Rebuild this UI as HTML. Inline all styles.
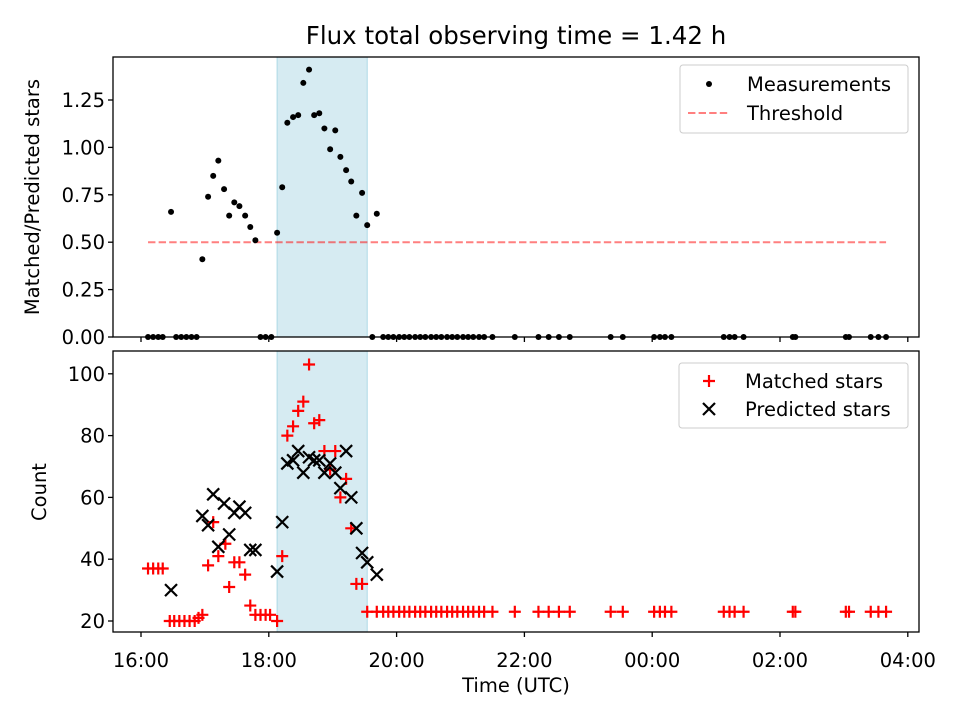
<!DOCTYPE html>
<html><head><meta charset="utf-8"><style>
body{margin:0;background:#fff}
svg text{font-family:"DejaVu Sans","Liberation Sans",sans-serif;fill:#000}
</style></head><body>
<svg id="c" width="960" height="720" xmlns="http://www.w3.org/2000/svg"></svg>
<script>
// hours since 16:00 UTC
const ratioTimes=[0.47,0.96,1.05,1.13,1.21,1.30,1.38,1.46,1.54,1.63,1.71,1.79,2.13,2.21,2.29,2.38,2.46,2.54,2.63,2.71,2.79,2.87,2.96,3.04,3.12,3.21,3.29,3.37,3.46,3.54,3.69];
const ratioValues=[0.66,0.41,0.74,0.85,0.93,0.78,0.64,0.71,0.69,0.64,0.58,0.51,0.55,0.79,1.13,1.16,1.17,1.34,1.41,1.17,1.18,1.10,0.99,1.09,0.95,0.88,0.82,0.64,0.76,0.59,0.65];
const tailTimes=[3.62,3.79,3.87,3.95,4.04,4.12,4.20,4.29,4.37,4.45,4.54,4.62,4.70,4.79,4.87,4.95,5.04,5.12,5.20,5.29,5.37,5.50,5.85,6.22,6.38,6.54,6.71,7.35,7.54,8.03,8.12,8.20,8.30,9.12,9.21,9.29,9.43,10.20,10.24,11.03,11.08,11.42,11.54,11.66];
const earlyZeroTimes=[0.11,0.19,0.27,0.34,0.55,0.63,0.71,0.79,0.87,1.87,1.95,2.04];
const matchedTimes=[0.11,0.19,0.27,0.34,0.45,0.52,0.60,0.68,0.76,0.84,0.90,0.96,1.05,1.13,1.21,1.32,1.38,1.46,1.54,1.63,1.71,1.79,1.87,1.95,2.02,2.13,2.21,2.29,2.38,2.46,2.54,2.63,2.71,2.79,2.87,2.96,3.04,3.12,3.21,3.29,3.37,3.46,3.54,3.69];
const matchedValues=[37,37,37,37,20,20,20,20,20,20,21,22,38,52,41,45,31,39,39,35,25,22,22,22,22,20,41,80,83,88,91,103,84,85,75,69,75,60,66,50,32,32,23,23];
const predictedTimes=[0.47,0.96,1.05,1.13,1.21,1.30,1.38,1.46,1.54,1.63,1.71,1.79,2.13,2.21,2.29,2.38,2.46,2.54,2.63,2.71,2.79,2.87,2.96,3.04,3.12,3.21,3.29,3.37,3.46,3.54,3.69];
const predictedValues=[30,54,51,61,44,58,48,55,57,55,43,43,36,52,71,72,75,68,73,72,72,68,71,68,63,75,60,50,42,39,35];
const topTicks=[0,0.25,0.5,0.75,1.0,1.25];
const botTicks=[20,40,60,80,100];
const xTickHours=[0,2,4,6,8,10,12];
const xTickLabels=["16:00","18:00","20:00","22:00","00:00","02:00","04:00"];
const threshold=0.5;
const span=[2.13,3.54];

const S=document.getElementById('c');const NS='http://www.w3.org/2000/svg';
function el(t,a,p){const e=document.createElementNS(NS,t);for(const k in a)e.setAttribute(k,a[k]);(p||S).appendChild(e);return e;}
const X=h=>141+63.9*h;
const Yt=v=>337-189.6*v;
const Yb=v=>621-3.09*(v-20);
const L=113,R=919;
for(const [t,b] of [[57,337],[351,632]]){
 const r=el('rect',{x:X(span[0]),y:t,width:X(span[1])-X(span[0]),height:b-t,fill:'#add8e6','fill-opacity':0.5,stroke:'#add8e6','stroke-width':1});
 
 
}
const th=el('line',{x1:X(0.11),x2:X(11.66),y1:Yt(threshold),y2:Yt(threshold),stroke:'#ff0000','stroke-opacity':0.5,'stroke-width':2,'stroke-dasharray':'7.4,3.2'});


const allT=ratioTimes.concat(earlyZeroTimes,tailTimes);
const allV=ratioValues.concat(earlyZeroTimes.map(()=>0),tailTimes.map(()=>0));
allT.forEach((t,i)=>{const c=el('circle',{cx:X(t),cy:Yt(allV[i]),r:3,fill:'#000'});
 
 });
const mT=matchedTimes.concat(tailTimes.slice(1)),mV=matchedValues.concat(tailTimes.slice(1).map(()=>23));
mT.forEach((t,i)=>{const x=X(t),y=Yb(mV[i]);const g=el('path',{d:`M${x-6},${y}H${x+6}M${x},${y-6}V${y+6}`,stroke:'#ff0000','stroke-width':2.2});
 
 });
predictedTimes.forEach((t,i)=>{const x=X(t),y=Yb(predictedValues[i]);const g=el('path',{d:`M${x-6},${y-6}L${x+6},${y+6}M${x-6},${y+6}L${x+6},${y-6}`,stroke:'#000','stroke-width':2.2});
 
 });
for(const [t,b,n] of [[57,337,'top-axes-frame'],[351,632,'bottom-axes-frame']]){
 const f=el('rect',{x:L,y:t,width:R-L,height:b-t,fill:'none',stroke:'#000','stroke-width':1.3});
 
 
}
xTickHours.forEach((h,i)=>{const x=X(h);
 el('line',{x1:x,x2:x,y1:337,y2:342,stroke:'#000','stroke-width':1.3});
 el('line',{x1:x,x2:x,y1:632,y2:637,stroke:'#000','stroke-width':1.3});
 const t=el('text',{x:x,y:667,'text-anchor':'middle','font-size':19.5});t.textContent=xTickLabels[i];
 
 });
topTicks.forEach(v=>{const y=Yt(v);el('line',{x1:L-5,x2:L,y1:y,y2:y,stroke:'#000','stroke-width':1.3});
 const t=el('text',{x:L-8,y:y+7,'text-anchor':'end','font-size':19.5});t.textContent=v.toFixed(2);
 
 });
botTicks.forEach(v=>{const y=Yb(v);el('line',{x1:L-5,x2:L,y1:y,y2:y,stroke:'#000','stroke-width':1.3});
 const t=el('text',{x:L-8,y:y+7,'text-anchor':'end','font-size':19.5});t.textContent=v;
 
 });
</script>
<svg style="position:absolute;left:0;top:0" width="960" height="720" xmlns="http://www.w3.org/2000/svg">
<text x="516" y="44" text-anchor="middle" font-size="24.5">Flux total observing time = 1.42 h</text>
<text x="516" y="692" text-anchor="middle" font-size="19.5">Time (UTC)</text>
<text transform="translate(39,197) rotate(-90)" text-anchor="middle" font-size="19.5">Matched/Predicted stars</text>
<text transform="translate(46,492) rotate(-90)" text-anchor="middle" font-size="19.5">Count</text>
<g>
<rect x="680" y="65" width="228" height="68" rx="3" fill="#fff" fill-opacity="0.8" stroke="#ccc"/>
<circle cx="709" cy="84" r="3" fill="#000"/>
<text x="747" y="91" font-size="19.5">Measurements</text>
<line x1="688" x2="730" y1="113" y2="113" stroke="#ff0000" stroke-opacity="0.5" stroke-width="2" stroke-dasharray="7.4,3.2"/>
<text x="747" y="120" font-size="19.5">Threshold</text>
</g>
<g>
<rect x="679" y="363" width="229" height="65" rx="3" fill="#fff" fill-opacity="0.8" stroke="#ccc"/>
<path d="M703,381H715M709,375V387" stroke="#ff0000" stroke-width="2.2"/>
<text x="745" y="388" font-size="19.5">Matched stars</text>
<path d="M703,403L715,415M703,415L715,403" stroke="#000" stroke-width="2.2"/>
<text x="745" y="416" font-size="19.5">Predicted stars</text>
</g>
</svg>
</body></html>
